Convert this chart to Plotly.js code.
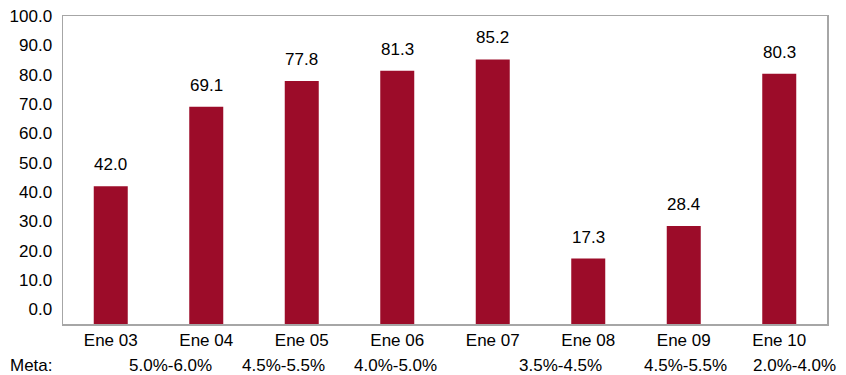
<!DOCTYPE html>
<html>
<head>
<meta charset="utf-8">
<script src="https://cdn.plot.ly/plotly-3.0.1.min.js"></script>
<style>
  html, body { margin: 0; padding: 0; background: #fff; }
  #chart { width: 846px; height: 375px; }
</style>
</head>
<body>
<div id="chart"></div>
<script>
// Periods (January of each year)
const categories = ["Ene 03", "Ene 04", "Ene 05", "Ene 06", "Ene 07", "Ene 08", "Ene 09", "Ene 10"];
// Values shown above each bar
const values = [42.0, 69.1, 77.8, 81.3, 85.2, 17.3, 28.4, 80.3];
// Target ranges ("Meta") printed under the axis
const metaLabels = ["5.0%-6.0%", "4.5%-5.5%", "4.0%-5.0%", "3.5%-4.5%", "4.5%-5.5%", "2.0%-4.0%"];
const yTickVals = [0, 10, 20, 30, 40, 50, 60, 70, 80, 90, 100];

const FONT = "Liberation Sans, Arial, Helvetica, sans-serif";
const BAR = "#9c0c29";
const AXIS_FLOOR = -5;

// Bars rise from the bottom frame up to each value
const trace = {
  type: "bar",
  x: categories,
  base: values.map(() => AXIS_FLOOR),
  y: values.map(v => v - AXIS_FLOOR),
  marker: { color: BAR, line: { width: 0 } },
  hoverinfo: "skip"
};

// Value labels above bars
const valueNotes = categories.map((c, i) => ({
  x: c, y: values[i], xref: "x", yref: "y",
  text: values[i].toFixed(1),
  showarrow: false, yanchor: "bottom", yshift: 10,
  font: { family: FONT, size: 17, color: "#000" }
}));

// Horizontal placement (paper fraction) of the target-range row
const metaX = [0.141, 0.288, 0.435, 0.651, 0.815, 0.958];
const metaNotes = metaLabels.map((t, i) => ({
  x: metaX[i], y: 0, xref: "paper", yref: "paper",
  text: t, showarrow: false, xanchor: "center", yanchor: "middle", yshift: -41,
  font: { family: FONT, size: 17, color: "#000" }
}));
metaNotes.push({
  x: -0.072, y: 0, xref: "paper", yref: "paper", text: "Meta:", showarrow: false,
  xanchor: "left", yanchor: "middle", yshift: -41,
  font: { family: FONT, size: 17, color: "#000" }
});

const layout = {
  width: 846, height: 375,
  margin: { l: 63, r: 19, t: 16, b: 51 },
  paper_bgcolor: "#fff", plot_bgcolor: "#fff",
  showlegend: false,
  bargap: 0.644,
  font: { family: FONT, size: 17, color: "#000" },
  xaxis: {
    type: "category",
    showgrid: false, zeroline: false,
    showline: true, mirror: true, linecolor: "#a6a6a6", linewidth: 1.5,
    ticks: "", tickfont: { family: FONT, size: 17, color: "#000" }
  },
  yaxis: {
    range: [AXIS_FLOOR, 100],
    tickvals: yTickVals,
    ticktext: yTickVals.map(v => v.toFixed(1)),
    showgrid: false, zeroline: false,
    showline: true, mirror: true, linecolor: "#a6a6a6", linewidth: 1.5,
    ticks: "", ticklabelstandoff: 6,
    tickfont: { family: FONT, size: 17, color: "#000" }
  },
  annotations: valueNotes.concat(metaNotes)
};

Plotly.newPlot("chart", [trace], layout, { displayModeBar: false, staticPlot: true });
</script>
</body>
</html>
